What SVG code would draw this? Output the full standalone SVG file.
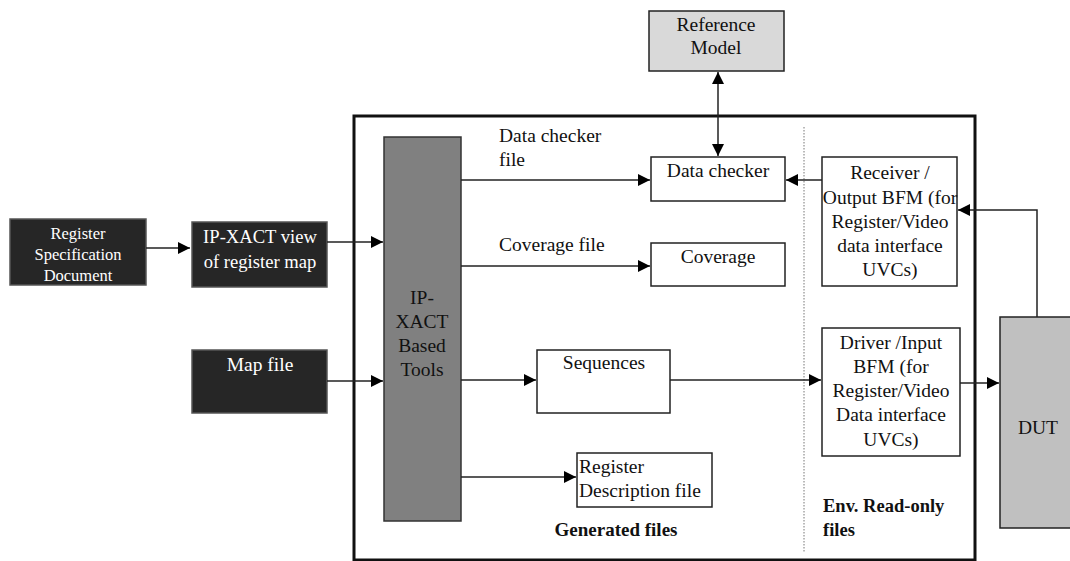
<svg xmlns="http://www.w3.org/2000/svg" width="1070" height="561" viewBox="0 0 1070 561" font-family="'Liberation Serif', 'Times New Roman', 'DejaVu Serif', serif">
<style>
text{font-family:'Liberation Serif','Times New Roman','DejaVu Serif',serif;font-size:19.5px;fill:#111}
.c{text-anchor:middle}
.w{fill:#fff}
.b{font-weight:bold;font-size:19px}
.dark{fill:#262626;stroke:#555;stroke-width:1.5}
.box{fill:#fff;stroke:#222;stroke-width:1.5}
.ln{stroke:#222;stroke-width:1.5;fill:none}
</style>
<defs>
<marker id="ah" viewBox="0 0 10 10" refX="10" refY="5" markerWidth="12" markerHeight="12" markerUnits="userSpaceOnUse" orient="auto-start-reverse">
<path d="M0,0 L10,5 L0,10 z" fill="#000"/>
</marker>
</defs>
<rect x="0" y="0" width="1070" height="561" fill="#fff"/>
<g id="frame">
<rect x="354" y="116" width="621" height="444" fill="none" stroke="#111" stroke-width="3"/>
<line x1="804" y1="127" x2="804" y2="553" stroke="#777" stroke-width="1" stroke-dasharray="1.5,1.5"/>
</g>
<g id="regspec">
<rect class="dark" x="10" y="219" width="136" height="66"/>
<text class="c w" x="78" y="239" style="font-size:16.5px">Register</text>
<text class="c w" x="78" y="260" style="font-size:16.5px">Specification</text>
<text class="c w" x="78" y="281" style="font-size:16.5px">Document</text>
</g>
<g id="ipxactview">
<rect class="dark" x="192" y="222" width="135" height="65"/>
<text class="c w" x="260" y="243" style="font-size:18.6px">IP-XACT view</text>
<text class="c w" x="260" y="268" style="font-size:18.6px">of register map</text>
</g>
<g id="mapfile">
<rect class="dark" x="192" y="350" width="135" height="63"/>
<text class="c w" x="260" y="371">Map file</text>
</g>
<g id="tools">
<rect x="384" y="137" width="77" height="384" fill="#808080" stroke="#333" stroke-width="1.5"/>
<text class="c" x="422" y="304">IP-</text>
<text class="c" x="422" y="328">XACT</text>
<text class="c" x="422" y="352">Based</text>
<text class="c" x="422" y="376">Tools</text>
</g>
<g id="refmodel">
<rect x="649" y="11" width="135" height="60" fill="#d9d9d9" stroke="#222" stroke-width="1.5"/>
<text class="c" x="716" y="31">Reference</text>
<text class="c" x="716" y="54">Model</text>
</g>
<g id="datachecker">
<rect class="box" x="651" y="157" width="134" height="44"/>
<text class="c" x="718" y="177">Data checker</text>
</g>
<g id="coverage">
<rect class="box" x="651" y="243" width="134" height="43"/>
<text class="c" x="718" y="263">Coverage</text>
</g>
<g id="sequences">
<rect class="box" x="537" y="350" width="133" height="63"/>
<text class="c" x="604" y="369">Sequences</text>
</g>
<g id="regdesc">
<rect class="box" x="577" y="453" width="135" height="54"/>
<text x="579" y="473">Register</text>
<text x="579" y="497">Description file</text>
</g>
<g id="receiver">
<rect class="box" x="822" y="157" width="135" height="129"/>
<text class="c" x="890" y="179">Receiver /</text>
<text class="c" x="890" y="204">Output BFM (for</text>
<text class="c" x="890" y="228">Register/Video</text>
<text class="c" x="890" y="252">data interface</text>
<text class="c" x="890" y="276">UVCs)</text>
</g>
<g id="driver">
<rect class="box" x="822" y="328" width="138" height="128"/>
<text class="c" x="891" y="349">Driver /Input</text>
<text class="c" x="891" y="373">BFM (for</text>
<text class="c" x="891" y="397">Register/Video</text>
<text class="c" x="891" y="421">Data interface</text>
<text class="c" x="891" y="446">UVCs)</text>
</g>
<g id="dut">
<rect x="1000" y="317" width="75" height="211" fill="#c0c0c0" stroke="#222" stroke-width="1.5"/>
<text class="c" x="1038" y="434">DUT</text>
</g>
<g id="labels">
<text x="499" y="142">Data checker</text>
<text x="499" y="166">file</text>
<text x="499" y="251">Coverage file</text>
<text class="c b" x="616" y="536">Generated files</text>
<text class="b" x="823" y="512" style="font-size:18.5px">Env. Read-only</text>
<text class="b" x="823" y="536" style="font-size:18.5px">files</text>
</g>
<g id="connectors">
<line class="ln" x1="146" y1="248" x2="190" y2="248" marker-end="url(#ah)"/>
<line class="ln" x1="327" y1="242" x2="383" y2="242" marker-end="url(#ah)"/>
<line class="ln" x1="327" y1="381" x2="383" y2="381" marker-end="url(#ah)"/>
<line class="ln" x1="718" y1="72" x2="718" y2="156" stroke-width="2.5" marker-start="url(#ah)" marker-end="url(#ah)"/>
<line class="ln" x1="461" y1="180" x2="650" y2="180" marker-end="url(#ah)"/>
<line class="ln" x1="461" y1="266" x2="650" y2="266" marker-end="url(#ah)"/>
<line class="ln" x1="461" y1="380" x2="536" y2="380" marker-end="url(#ah)"/>
<line class="ln" x1="670" y1="380" x2="821" y2="380" stroke="#444" marker-end="url(#ah)"/>
<line class="ln" x1="461" y1="477" x2="576" y2="477" marker-end="url(#ah)"/>
<line class="ln" x1="822" y1="180" x2="786" y2="180" marker-end="url(#ah)"/>
<polyline class="ln" points="1037,317 1037,210 958,210" stroke="#666" marker-end="url(#ah)"/>
<line class="ln" x1="960" y1="383" x2="999" y2="383" stroke-width="3" marker-end="url(#ah)"/>
</g>
</svg>
